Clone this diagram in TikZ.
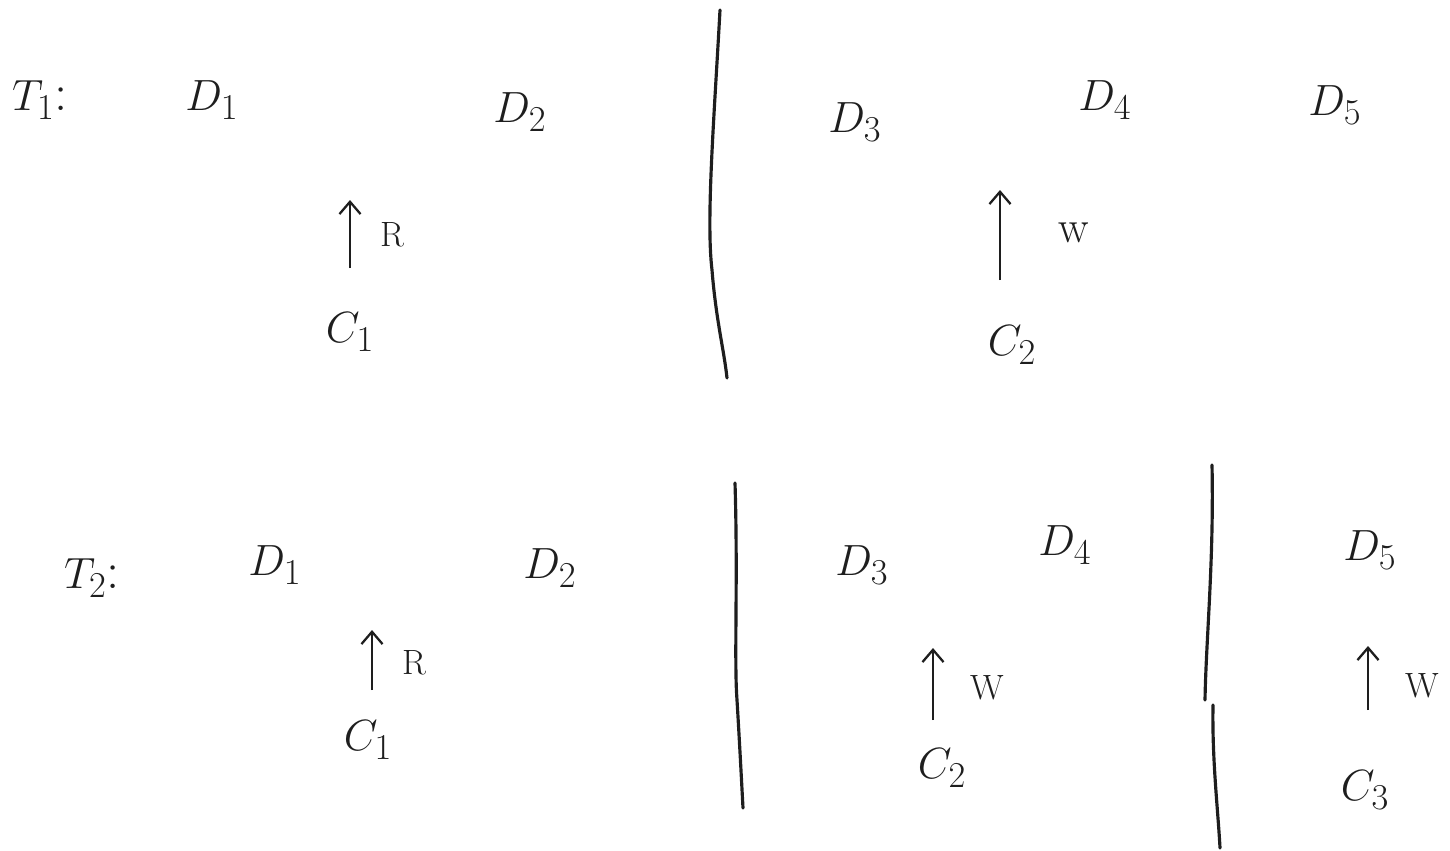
\documentclass[tikz,border=0pt]{standalone}
\usepackage{tikz}
\usetikzlibrary{arrows.meta, positioning}
\definecolor{ink}{RGB}{30,30,30}

\tikzset{
  lbl/.style={text=ink, font=\fontsize{30}{34}\selectfont, inner sep=1pt},
  op/.style={text=ink, font=\fontsize{20}{24}\selectfont, inner sep=1pt},
  upar/.style={draw=ink, line width=1.3pt, -{Straight Barb[length=7pt,width=12pt]}},
  split/.style={draw=ink, line width=1.8pt, line cap=round}
}

\begin{document}
\begin{tikzpicture}[x=0.02cm, y=-0.02cm]
  \useasboundingbox (0,0) rectangle (1450,850);

  % first schedule
  \node[lbl] (t1) at (40,100) {$T_1$:};
  \node[lbl] (r1d1) at (212,100) {$D_1$};
  \node[lbl] (r1d2) at (520,112) {$D_2$};
  \node[lbl] (r1d3) at (855,122) {$D_3$};
  \node[lbl] (r1d4) at (1105,100) {$D_4$};
  \node[lbl] (r1d5) at (1335,105) {$D_5$};

  \node[lbl] (r1c1) at (350,332) {$C_1$};
  \coordinate (r1c1top) at (350,200);
  \draw[upar] (350,268) -- (r1c1top);
  \node[op, right=16pt of r1c1top, yshift=-0.7cm] (r1r) {R};

  \node[lbl] (r1c2) at (1012,345) {$C_2$};
  \coordinate (r1c2top) at (1000,190);
  \draw[upar] (1000,280) -- (r1c2top);
  \node[op, font=\fontsize{26}{30}\selectfont, right=32pt of r1c2top, yshift=-0.85cm] (r1w) {w};

  \draw[split] (720,10) .. controls (714,120) and (706,220) .. (712,270)
               .. controls (716,320) and (724,350) .. (727,378);

  % second schedule
  \node[lbl] (t2) at (92,578) {$T_2$:};
  \node[lbl] (r2d1) at (275,565) {$D_1$};
  \node[lbl] (r2d2) at (550,568) {$D_2$};
  \node[lbl] (r2d3) at (862,565) {$D_3$};
  \node[lbl] (r2d4) at (1065,545) {$D_4$};
  \node[lbl] (r2d5) at (1370,550) {$D_5$};

  \node[lbl] (r2c1) at (368,740) {$C_1$};
  \coordinate (r2c1top) at (372,630);
  \draw[upar] (372,690) -- (r2c1top);
  \node[op, right=16pt of r2c1top, yshift=-0.65cm] (r2r) {R};

  \node[lbl] (r2c2) at (942,768) {$C_2$};
  \coordinate (r2c2top) at (933,648);
  \draw[upar] (933,720) -- (r2c2top);
  \node[op, right=20pt of r2c2top, yshift=-0.8cm] (r2w) {W};

  \node[lbl] (r2c3) at (1365,790) {$C_3$};
  \coordinate (r2c3top) at (1368,646);
  \draw[upar] (1368,710) -- (r2c3top);
  \node[op, right=20pt of r2c3top, yshift=-0.8cm] (r2w3) {W};

  \draw[split] (735,483) .. controls (738,580) and (734,660) .. (737,700)
               .. controls (740,750) and (742,790) .. (743,808);
  \draw[split] (1212,465) .. controls (1214,560) and (1206,640) .. (1205,700);
  \draw[split] (1213,705) .. controls (1212,760) and (1218,810) .. (1220,848);
\end{tikzpicture}
\end{document}
